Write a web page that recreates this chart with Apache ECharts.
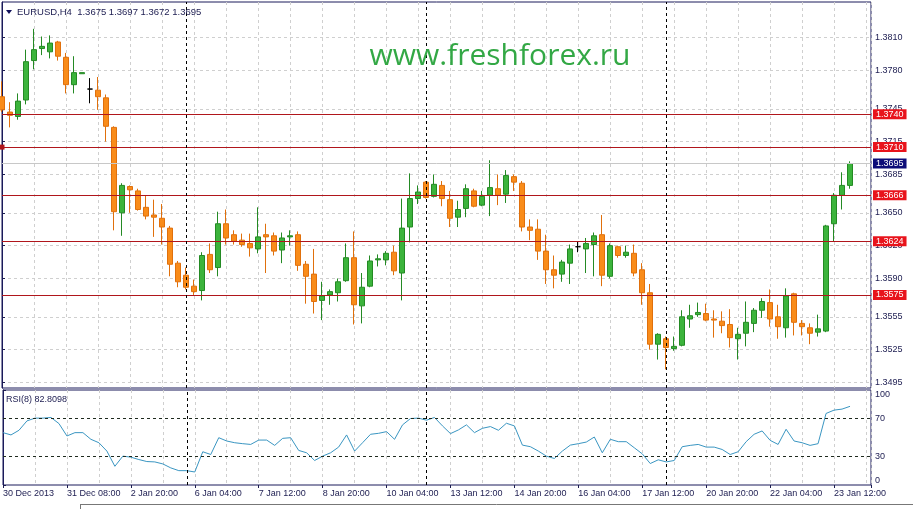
<!DOCTYPE html>
<html><head><meta charset="utf-8">
<script src="https://cdn.jsdelivr.net/npm/echarts@6/dist/echarts.min.js"></script>
<style>html,body{margin:0;padding:0;background:#fff}#c{width:913px;height:509px}</style>
</head><body><div id="c"></div>
<script>
const symbolName = 'EURUSD,H4';
const lastBar = [1.3675, 1.3697, 1.3672, 1.3695];
const watermark = 'www.freshforex.ru';
const rsiName = 'RSI(8) 82.8098';

const dateLabels = ['30 Dec 2013','31 Dec 08:00','2 Jan 20:00','6 Jan 04:00','7 Jan 12:00','8 Jan 20:00','10 Jan 04:00','13 Jan 12:00','14 Jan 20:00','16 Jan 04:00','17 Jan 12:00','20 Jan 20:00','22 Jan 04:00','23 Jan 12:00'];
const labelStep = 8;

const opens = [1.3756,1.3742,1.3738,1.3753,1.3789,1.3800,1.3797,1.3806,1.3792,1.3767,
1.3777,1.3763,1.3762,1.3755,1.3728,1.3650,1.3674,1.3670,1.3655,1.3648,
1.3645,1.3636,1.3604,1.3593,1.3583,1.3579,1.3612,1.3600,1.3640,1.3630,
1.3625,1.3622,1.3617,1.3630,1.3629,1.3616,1.3628,1.3630,1.3603,1.3594,
1.3570,1.3575,1.3577,1.3588,1.3609,1.3565,1.3583,1.3607,1.3607,1.3614,
1.3595,1.3637,1.3663,1.3678,1.3665,1.3675,1.3662,1.3646,1.3654,1.3670,
1.3657,1.3666,1.3672,1.3667,1.3683,1.3677,1.3637,1.3635,1.3615,1.3598,
1.3594,1.3604,1.3619,1.3617,1.3621,1.3630,1.3592,1.3619,1.3611,1.3613,
1.3598,1.3577,1.3530,1.3535,1.3526,1.3529,1.3553,1.3557,1.3558,1.3553,
1.3551,1.3548,1.3535,1.3540,1.3549,1.3561,1.3568,1.3555,1.3545,1.3576,
1.3549,1.3545,1.3541,1.3542,1.3640,1.3666,1.3675];
const highs = [1.3770,1.3751,1.3759,1.3799,1.3818,1.3811,1.3812,1.3807,1.3796,1.3793,
1.3778,1.3773,1.3774,1.3758,1.3729,1.3677,1.3675,1.3672,1.3666,1.3662,
1.3658,1.3638,1.3606,1.3600,1.3589,1.3614,1.3622,1.3651,1.3653,1.3634,
1.3631,1.3631,1.3655,1.3640,1.3632,1.3632,1.3634,1.3633,1.3606,1.3617,
1.3587,1.3580,1.3590,1.3622,1.3633,1.3595,1.3611,1.3612,1.3615,1.3620,
1.3663,1.3686,1.3675,1.3679,1.3685,1.3679,1.3670,1.3661,1.3676,1.3672,
1.3670,1.3698,1.3685,1.3689,1.3685,1.3679,1.3644,1.3644,1.3630,1.3611,
1.3607,1.3621,1.3624,1.3627,1.3632,1.3648,1.3622,1.3620,1.3620,1.3621,
1.3604,1.3585,1.3540,1.3537,1.3537,1.3561,1.3566,1.3568,1.3567,1.3561,
1.3560,1.3562,1.3545,1.3569,1.3563,1.3572,1.3580,1.3566,1.3581,1.3577,
1.3552,1.3549,1.3557,1.3639,1.3668,1.3687,1.3697];
const lows = [1.3742,1.3728,1.3735,1.3749,1.3781,1.3794,1.3791,1.3789,1.3759,1.3759,
1.3777,1.3750,1.3744,1.3715,1.3634,1.3629,1.3650,1.3652,1.3644,1.3628,
1.3621,1.3592,1.3582,1.3580,1.3575,1.3570,1.3595,1.3592,1.3621,1.3621,
1.3619,1.3610,1.3613,1.3595,1.3611,1.3604,1.3620,1.3597,1.3567,1.3558,
1.3552,1.3566,1.3569,1.3587,1.3548,1.3549,1.3582,1.3601,1.3602,1.3593,
1.3570,1.3623,1.3658,1.3663,1.3664,1.3656,1.3637,1.3637,1.3646,1.3655,
1.3656,1.3647,1.3657,1.3659,1.3670,1.3633,1.3625,1.3607,1.3585,1.3581,
1.3587,1.3585,1.3614,1.3595,1.3592,1.3583,1.3590,1.3609,1.3609,1.3592,
1.3566,1.3525,1.3516,1.3507,1.3524,1.3528,1.3545,1.3555,1.3551,1.3536,
1.3540,1.3527,1.3516,1.3528,1.3541,1.3554,1.3546,1.3535,1.3536,1.3538,
1.3538,1.3530,1.3537,1.3541,1.3624,1.3653,1.3672];
const closes = [1.3744,1.3739,1.3752,1.3788,1.3799,1.3802,1.3805,1.3793,1.3767,1.3778,
1.3778,1.3763,1.3756,1.3729,1.3651,1.3675,1.3671,1.3653,1.3647,1.3646,
1.3637,1.3603,1.3587,1.3582,1.3578,1.3611,1.3598,1.3640,1.3627,1.3624,
1.3621,1.3618,1.3628,1.3628,1.3615,1.3627,1.3629,1.3602,1.3592,1.3569,
1.3574,1.3578,1.3587,1.3609,1.3566,1.3582,1.3606,1.3608,1.3613,1.3597,
1.3636,1.3663,1.3669,1.3664,1.3676,1.3663,1.3645,1.3653,1.3672,1.3656,
1.3665,1.3673,1.3666,1.3684,1.3678,1.3637,1.3634,1.3615,1.3598,1.3593,
1.3605,1.3617,1.3619,1.3622,1.3629,1.3593,1.3620,1.3611,1.3614,1.3595,
1.3577,1.3530,1.3539,1.3527,1.3528,1.3555,1.3556,1.3559,1.3552,1.3552,
1.3547,1.3536,1.3539,1.3550,1.3561,1.3569,1.3553,1.3546,1.3574,1.3550,
1.3546,1.3540,1.3544,1.3638,1.3666,1.3675,1.3695];

const rsi = [55.1,52.7,57.6,67.5,70.4,70.4,71.1,64.7,51.6,55.1,
55.1,48.1,44.5,35.7,19.7,30.4,29.3,26.8,24.7,24.3,
22.2,18.0,15.1,15.1,13.7,35.0,32.1,49.8,46.3,44.5,
43.5,42.7,47.3,47.3,41.7,49.1,49.8,36.4,33.9,25.8,
30.4,33.9,39.9,52.7,35.7,44.5,53.4,54.4,56.2,48.1,
63.3,70.0,70.4,68.2,71.1,62.2,54.1,58.0,63.3,55.1,
59.7,61.5,57.6,65.0,62.2,42.0,40.3,35.7,30.4,27.9,
35.7,42.0,43.5,45.2,50.5,33.9,48.1,45.6,45.6,39.2,
32.8,22.6,26.5,24.3,25.8,40.3,41.7,42.7,39.9,39.9,
37.4,32.1,35.0,45.6,53.4,56.9,47.0,42.7,58.7,46.3,
44.5,41.7,43.5,75.3,78.8,79.9,82.8];

const priceTicks = [1.3495,1.3525,1.3555,1.3590,1.3620,1.3650,1.3685,1.3715,1.3745,1.3780,1.3810];
const priceMin = 1.3490, priceMax = 1.38425;
const levels = [1.3740,1.3710,1.3666,1.3624,1.3575];
const selectedLevel = 1.3710;
const bidPrice = 1.3695;
const rsiTicks = [0,30,70,100];
const rsiLevels = [30,70];
const weekStarts = [23,53,83];
const xMax = 108.625;

const FONT = '"Liberation Sans", Arial, sans-serif';
const NAVY = '#1c1c50';
const GRID = '#cfcfcf';
const RED = '#e8141c';
const LINE_RED = '#b0161c';

const candleData = opens.map((o, i) => [i, o, closes[i], lows[i], highs[i]]);
const rsiData = rsi.map((v, i) => [i, v]);

const boxLabel = (bg) => ({ show: true, position: 'end', formatter: p => Number(p.value).toFixed(4), backgroundColor: bg, color: '#fff', padding: [1, 3, 0, 3], fontSize: 9, fontFamily: FONT, distance: 2 });
const levelLines = () => levels.map(v => {
  const item = { yAxis: v, lineStyle: { color: LINE_RED, width: 1.2, type: 'solid' }, label: boxLabel(RED) };
  if (v === selectedLevel) { item.symbol = ['emptyRect', 'emptyRect']; item.symbolSize = 5; }
  return item;
});
const bidLine = () => ({ yAxis: bidPrice, lineStyle: { color: '#c8c8c8', width: 1, type: 'solid' }, label: boxLabel('#0c0c78') });
const weekLines = () => weekStarts.map(i => ({ xAxis: i, lineStyle: { color: '#000', width: 1, type: [3, 3] }, label: { show: false } }));

const xBase = (gi) => ({
  type: 'value', gridIndex: gi, min: 0, max: xMax, interval: labelStep,
  axisLine: { show: false },
  splitLine: { show: true, lineStyle: { color: GRID, width: 1, type: [3, 3] } },
  minorTick: { show: false, splitNumber: 2 },
  minorSplitLine: { show: true, lineStyle: { color: GRID, width: 1, type: [3, 3] } }
});

const chart = echarts.init(document.getElementById('c'), null, { renderer: 'canvas' });
chart.setOption({
  animation: false,
  backgroundColor: '#fff',
  textStyle: { fontFamily: FONT },
  grid: [
    { left: 2, right: 42, top: 2, height: 386, show: true, borderColor: '#1a1a5a', borderWidth: 1, backgroundColor: '#fff' },
    { left: 2, right: 42, top: 390, height: 95, show: true, borderColor: '#1a1a5a', borderWidth: 1, backgroundColor: '#fff' }
  ],
  xAxis: [
    Object.assign(xBase(0), { axisTick: { show: false }, axisLabel: { show: false } }),
    Object.assign(xBase(1), {
      axisTick: { show: true, length: 3, lineStyle: { color: NAVY } },
      axisLabel: { show: true, align: 'left', margin: 4, fontSize: 9, fontFamily: FONT, color: NAVY,
        formatter: v => (v % labelStep === 0 && dateLabels[v / labelStep]) ? dateLabels[v / labelStep] : '' }
    })
  ],
  yAxis: [
    { type: 'value', gridIndex: 0, position: 'right', min: priceMin, max: priceMax,
      axisLine: { show: true, lineStyle: { color: '#1a1a5a' } },
      axisTick: { show: true, length: 3, customValues: priceTicks, lineStyle: { color: NAVY } },
      axisLabel: { show: true, customValues: priceTicks, margin: 4, fontSize: 9, fontFamily: FONT, color: NAVY, formatter: v => v.toFixed(4) },
      splitLine: { show: true, lineStyle: { color: GRID, width: 1, type: [3, 3] } } },
    { type: 'value', gridIndex: 1, position: 'right', min: 0, max: 100,
      axisLine: { show: true, lineStyle: { color: '#1a1a5a' } },
      axisTick: { show: true, length: 3, customValues: rsiTicks, lineStyle: { color: NAVY } },
      axisLabel: { show: true, customValues: rsiTicks, margin: 4, fontSize: 9, fontFamily: FONT, color: NAVY,
        verticalAlignMaxLabel: 'top', verticalAlignMinLabel: 'bottom' },
      splitLine: { show: false } }
  ],
  series: [
    { type: 'candlestick', xAxisIndex: 0, yAxisIndex: 0, data: candleData, encode: { x: 0, y: [1, 2, 3, 4] },
      barWidth: 5, clip: true,
      itemStyle: { color: '#3cb43c', borderColor: '#248a24', color0: '#f98c1a', borderColor0: '#e0700c', borderColorDoji: '#000', borderWidth: 1 },
      markLine: { silent: true, animation: false, precision: 4, symbol: 'none', symbolSize: 0,
        data: [bidLine()].concat(levelLines(), weekLines()) } },
    { type: 'line', xAxisIndex: 1, yAxisIndex: 1, data: rsiData, showSymbol: false, clip: true,
      lineStyle: { color: '#3a96c2', width: 1 },
      markLine: { silent: true, animation: false, precision: 4, symbol: 'none', symbolSize: 0,
        data: rsiLevels.map(v => ({ yAxis: v, lineStyle: { color: '#1e2a1e', width: 1, type: [3, 3] }, label: { show: false } })).concat(weekLines()) } }
  ],
  graphic: [
    { type: 'polygon', shape: { points: [[6, 10], [12, 10], [9, 14]] }, style: { fill: '#10105a' }, z: 50 },
    { type: 'text', x: 17, y: 12, style: { text: symbolName + '  ' + lastBar.map(v => v.toFixed(4)).join(' '), font: '9.5px ' + FONT, fill: NAVY, textVerticalAlign: 'middle' }, z: 50 },
    { type: 'text', x: 500, y: 56, style: { text: watermark, font: '30px "Open Sans", sans-serif', fill: '#33a845', textAlign: 'center', textVerticalAlign: 'middle' }, z: 50 },
    { type: 'text', x: 6, y: 400, style: { text: rsiName, font: '9px ' + FONT, fill: NAVY, textVerticalAlign: 'middle' }, z: 50 },
    { type: 'line', shape: { x1: 80, y1: 504.5, x2: 913, y2: 504.5 }, style: { stroke: '#777', lineWidth: 1 }, z: 50 },
    { type: 'line', shape: { x1: 80.5, y1: 504, x2: 80.5, y2: 509 }, style: { stroke: '#777', lineWidth: 1 }, z: 50 }
  ]
});
</script></body></html>
